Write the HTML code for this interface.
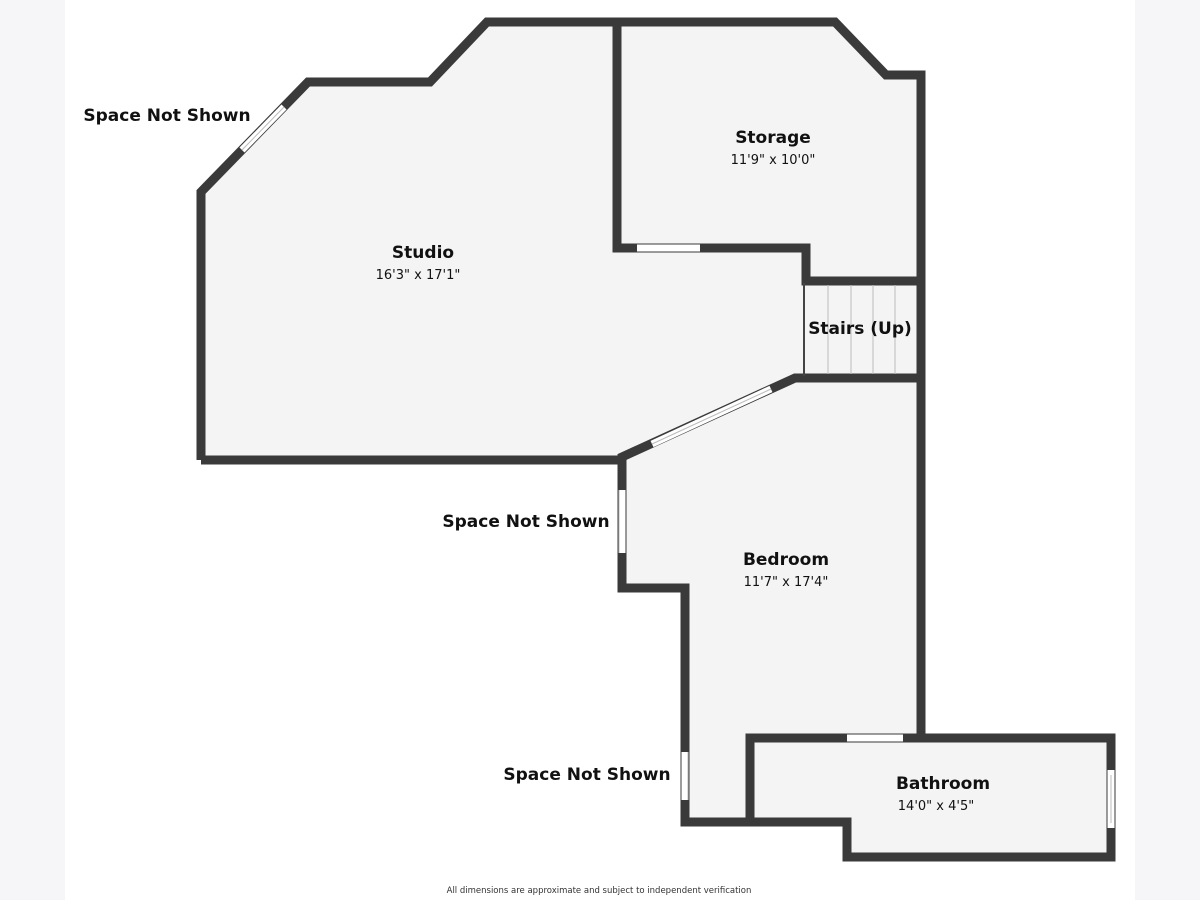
<!DOCTYPE html>
<html><head><style>
html,body{margin:0;padding:0;background:#fff}
body{width:1200px;height:900px;position:relative;overflow:hidden;font-family:"Liberation Sans",sans-serif}
.m{position:absolute;top:0;width:65px;height:900px;background:#f6f5f7}
</style></head><body>
<div class="m" style="left:0"></div><div class="m" style="left:1135px"></div>
<svg width="1200" height="900" style="position:absolute;left:0;top:0">
<g fill="#f4f4f4" stroke="none">
<polygon points="201,192 308,82 430,82 487,22 835,22 886,75 921,75 921,738 1111,738 1111,857 847,857 847,822 685,822 685,588 622,588 622,460 201,460"/>
</g>
<g fill="none" stroke="#3a3a3a" stroke-width="9" stroke-linejoin="miter">
<polyline points="201,460 201,192 308,82 430,82 487,22 835,22 886,75 921,75 921,738"/>
<polyline points="617,22 617,248 806,248 806,281 921,281"/>
<polyline points="921,378 795,378 622,457 622,588 685,588 685,822 750,822"/>
<polyline points="201,460 622,460"/>
<polygon points="750,738 1111,738 1111,857 847,857 847,822 750,822"/>
</g>
<g stroke="#fff" stroke-width="7">
<line x1="242" y1="150" x2="284" y2="107"/>
<line x1="637" y1="248" x2="700" y2="248"/>
<line x1="652" y1="444" x2="771" y2="389"/>
<line x1="622" y1="490" x2="622" y2="553"/>
<line x1="685" y1="752" x2="685" y2="800"/>
<line x1="847" y1="738" x2="903" y2="738"/>
<line x1="1111" y1="770" x2="1111" y2="828"/>
</g>
<g stroke="#bbb" stroke-width="1">
<line x1="242" y1="150" x2="284" y2="107"/>
<line x1="652" y1="444" x2="771" y2="389"/>
<line x1="619" y1="490" x2="619" y2="553"/>
<line x1="688" y1="752" x2="688" y2="800"/>
<line x1="1111" y1="775" x2="1111" y2="823"/>
<line x1="828" y1="285" x2="828" y2="374"/>
<line x1="851" y1="285" x2="851" y2="374"/>
<line x1="873" y1="285" x2="873" y2="374"/>
<line x1="895" y1="285" x2="895" y2="374"/>
</g>
<line x1="804" y1="283" x2="804" y2="376" stroke="#444" stroke-width="2"/>
<g font-family="DejaVu Sans, sans-serif" fill="#111" text-anchor="middle">
<text x="167" y="121" font-size="17" font-weight="bold">Space Not Shown</text>
<text x="526" y="527" font-size="17" font-weight="bold">Space Not Shown</text>
<text x="587" y="780" font-size="17" font-weight="bold">Space Not Shown</text>
<text x="773" y="143" font-size="17" font-weight="bold">Storage</text>
<text x="773" y="164" font-size="13">11'9" x 10'0"</text>
<text x="423" y="258" font-size="17" font-weight="bold">Studio</text>
<text x="418" y="279" font-size="13">16'3" x 17'1"</text>
<text x="860" y="334" font-size="17" font-weight="bold">Stairs (Up)</text>
<text x="786" y="565" font-size="17" font-weight="bold">Bedroom</text>
<text x="786" y="586" font-size="13">11'7" x 17'4"</text>
<text x="943" y="789" font-size="17" font-weight="bold">Bathroom</text>
<text x="936" y="810" font-size="13">14'0" x 4'5"</text>
<text x="599" y="893" font-size="8.5" fill="#333">All dimensions are approximate and subject to independent verification</text>
</g>
</svg>
</body></html>
